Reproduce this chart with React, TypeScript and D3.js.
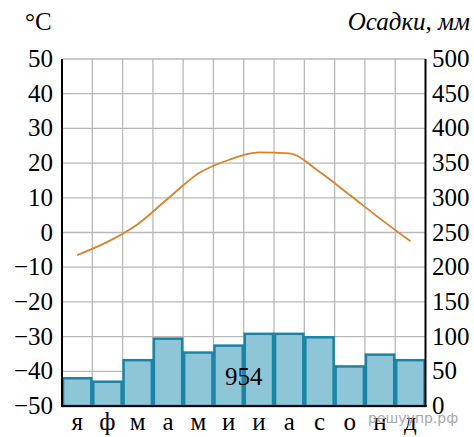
import React, { useRef, useEffect } from "react";
import * as d3 from "d3";

const months = ["я", "ф", "м", "а", "м", "и", "и", "а", "с", "о", "н", "д"];
const temperature = [-6.5, -2.7, 2.4, 9.8, 17, 20.9, 23.1, 22.8, 17.5, 10.8, 4, -2.5];
const precipitation = [40, 35, 66, 97, 77, 87, 104, 104, 99, 57, 74, 66];
const tempTicks = [-50, -40, -30, -20, -10, 0, 10, 20, 30, 40, 50];
const precTicks = [0, 50, 100, 150, 200, 250, 300, 350, 400, 450, 500];
const annualTotal = "954";

const width = 474;
const height = 437;
const plot = { left: 62, right: 425.5, top: 59, bottom: 406 };
const font = "'Liberation Serif', 'DejaVu Serif', serif";

const ClimateChart: React.FC = () => {
  const svgRef = useRef<SVGSVGElement | null>(null);

  useEffect(() => {
    if (!svgRef.current) return;
    const svg = d3.select(svgRef.current);
    svg.selectAll("*").remove();

    const x = d3
      .scaleBand<number>()
      .domain(d3.range(months.length))
      .range([plot.left, plot.right])
      .padding(0);

    const yT = d3.scaleLinear().domain([-50, 50]).range([plot.bottom, plot.top]);
    const yP = d3.scaleLinear().domain([0, 500]).range([plot.bottom, plot.top]);

    svg.append("rect").attr("width", width).attr("height", height).attr("fill", "white");

    // grid
    const grid = svg.append("g").attr("stroke", "#b8b8b8").attr("stroke-width", 1.3);
    grid
      .selectAll("line.h")
      .data(tempTicks)
      .enter()
      .append("line")
      .attr("x1", plot.left)
      .attr("x2", plot.right)
      .attr("y1", (d) => yT(d))
      .attr("y2", (d) => yT(d));
    grid
      .selectAll("line.v")
      .data(d3.range(1, months.length))
      .enter()
      .append("line")
      .attr("x1", (d) => x(d) as number)
      .attr("x2", (d) => x(d) as number)
      .attr("y1", plot.top)
      .attr("y2", plot.bottom);

    // precipitation bars
    svg
      .append("g")
      .selectAll("rect")
      .data(precipitation)
      .enter()
      .append("rect")
      .attr("x", (_, i) => (x(i) as number) + 1)
      .attr("width", x.bandwidth() - 2)
      .attr("y", (d) => yP(d))
      .attr("height", (d) => plot.bottom - yP(d))
      .attr("fill", "#8ec5d7")
      .attr("stroke", "#1a84a6")
      .attr("stroke-width", 2.5);

    // temperature line
    const line = d3
      .line<number>()
      .x((_, i) => (x(i) as number) + x.bandwidth() / 2)
      .y((d) => yT(d))
      .curve(d3.curveMonotoneX);

    svg
      .append("path")
      .datum(temperature)
      .attr("fill", "none")
      .attr("stroke", "#d9822b")
      .attr("stroke-width", 1.8)
      .attr("d", line);

    // axes frame
    const frame = svg.append("g").attr("stroke", "black").attr("stroke-width", 2);
    frame.append("line").attr("x1", plot.left).attr("x2", plot.left).attr("y1", plot.top).attr("y2", plot.bottom + 1);
    frame.append("line").attr("x1", plot.right).attr("x2", plot.right).attr("y1", plot.top).attr("y2", plot.bottom + 1);
    frame.append("line").attr("x1", plot.left - 1).attr("x2", plot.right + 1).attr("y1", plot.bottom).attr("y2", plot.bottom);

    const label = (sel: d3.Selection<SVGTextElement, any, any, any>) =>
      sel.style("font-family", font).style("font-size", "25px").attr("fill", "black");

    const text = svg.append("g");

    text
      .selectAll("text.lt")
      .data(tempTicks)
      .enter()
      .append("text")
      .call(label)
      .attr("x", 53)
      .attr("y", (d) => yT(d) + 8)
      .attr("text-anchor", "end")
      .text((d) => (d < 0 ? `\u2212${Math.abs(d)}` : `${d}`));

    text
      .selectAll("text.rt")
      .data(precTicks)
      .enter()
      .append("text")
      .call(label)
      .attr("x", 432)
      .attr("y", (d) => yP(d) + 8)
      .attr("text-anchor", "start")
      .text((d) => `${d}`);

    text
      .selectAll("text.m")
      .data(months)
      .enter()
      .append("text")
      .call(label)
      .attr("x", (_, i) => (x(i) as number) + x.bandwidth() / 2)
      .attr("y", 430)
      .attr("text-anchor", "middle")
      .text((d) => d);

    text.append("text").call(label).attr("x", 25).attr("y", 30).text("°C");
    text
      .append("text")
      .call(label)
      .attr("x", 470)
      .attr("y", 30)
      .attr("text-anchor", "end")
      .style("font-style", "italic")
      .text("Осадки, мм");

    text
      .append("text")
      .call(label)
      .attr("x", x(6) as number)
      .attr("y", 385)
      .attr("text-anchor", "middle")
      .text(annualTotal);

    svg
      .append("text")
      .attr("x", 368)
      .attr("y", 423)
      .style("font-family", "'DejaVu Sans', sans-serif")
      .style("font-size", "14px")
      .attr("fill", "#a8a8a8")
      .text("решуупр.рф");
  }, []);

  return <svg ref={svgRef} width={width} height={height} style={{ display: "block" }} />;
};

export default function App() {
  return (
    <div style={{ position: "absolute", left: 0, top: 0 }}>
      <ClimateChart />
    </div>
  );
}
